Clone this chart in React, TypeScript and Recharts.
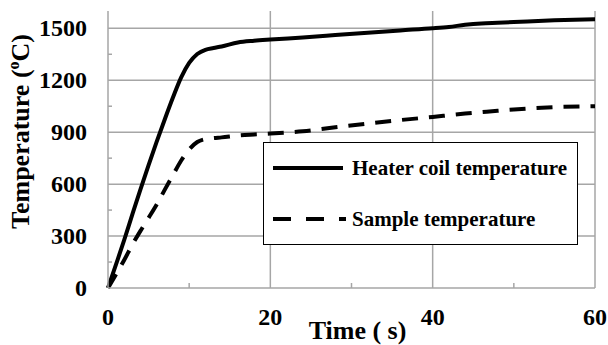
import {
  Legend,
  Line,
  LineChart,
  ReferenceLine,
  XAxis,
  YAxis,
} from 'recharts';

const TIME = [0, 1, 2, 3, 4, 5, 6, 7, 8, 9, 10, 11, 12, 13, 14, 16, 18, 20, 24, 28, 32, 36, 40, 42, 44, 46, 48, 50, 55, 60];
const HEATER = [0, 138, 278, 425, 570, 710, 845, 975, 1100, 1215, 1300, 1352, 1376, 1386, 1395, 1418, 1428, 1435, 1447, 1461, 1475, 1488, 1500, 1508, 1520, 1528, 1532, 1536, 1546, 1552];
const SAMPLE = [0, 80, 162, 250, 330, 405, 482, 568, 652, 735, 800, 843, 860, 866, 870, 881, 887, 892, 905, 928, 950, 970, 988, 998, 1008, 1016, 1024, 1031, 1045, 1050];

const X_TICKS = [0, 10, 20, 30, 40, 50, 60];
const X_GRID = [20, 40, 60];
const Y_TICKS = [0, 150, 300, 450, 600, 750, 900, 1050, 1200, 1350, 1500];
const Y_GRID = [300, 600, 900, 1200, 1500];

const DATA = TIME.map((t, i) => ({ t, heater: HEATER[i], sample: SAMPLE[i] }));

const FONT = "'Liberation Serif', 'Times New Roman', serif";
const GRID = '#a6a6a6';
const DASH = '16 11';

function XTick({ x, y, payload }: any) {
  if (payload.value % 20 !== 0) {
    return <line x1={x} x2={x} y1={y} y2={y - 5} stroke={GRID} strokeWidth={1.5} />;
  }
  return (
    <text x={x} y={y + 37} textAnchor="middle" fontFamily={FONT} fontWeight={700} fontSize={24} fill="#000">
      {payload.value}
    </text>
  );
}

function YTick({ x, y, payload }: any) {
  if (payload.value % 300 !== 0) {
    return <line x1={x} x2={x + 4} y1={y} y2={y} stroke={GRID} strokeWidth={1.5} />;
  }
  return (
    <text x={x - 21} y={y + 8} textAnchor="end" fontFamily={FONT} fontWeight={700} fontSize={24} fill="#000">
      {payload.value}
    </text>
  );
}

function XLabel({ viewBox }: any) {
  return (
    <text x={viewBox.x + viewBox.width / 2 + 6} y={viewBox.y + 51} textAnchor="middle" fontFamily={FONT} fontWeight={700} fontSize={26} fill="#000">
      Time ( s)
    </text>
  );
}

function YLabel({ viewBox }: any) {
  const cx = 29;
  const cy = viewBox.y + viewBox.height / 2 - 18;
  return (
    <text x={cx} y={cy} transform={`rotate(-90 ${cx} ${cy})`} textAnchor="middle" fontFamily={FONT} fontWeight={700} fontSize={26} fill="#000">
      Temperature (<tspan fontSize={16} dy={-10}>o</tspan><tspan dy={10}>C)</tspan>
    </text>
  );
}

function LegendBox({ payload }: any) {
  return (
    <div style={{ width: 315, height: 103, boxSizing: 'border-box', border: '1.5px solid #000', background: '#fff' }}>
      <svg width={312} height={100} style={{ display: 'block' }}>
        {(payload || []).map((entry: any, i: number) => {
          const cy = 25 + i * 51;
          return (
            <g key={entry.value}>
              <line x1={9} x2={i === 0 ? 79 : 82} y1={cy} y2={cy} stroke="#000" strokeWidth={4} strokeDasharray={i === 0 ? undefined : '18 15'} />
              <text x={88} y={cy + 7} fontFamily={FONT} fontWeight={700} fontSize={21} fill="#000">
                {entry.value}
              </text>
            </g>
          );
        })}
      </svg>
    </div>
  );
}

export default function App() {
  return (
    <div style={{ position: 'absolute', left: 0, top: 0, width: 608, height: 345, background: '#fff' }}>
      <LineChart width={608} height={345} data={DATA} margin={{ top: 11, right: 13, bottom: 0, left: 0 }}>
        <XAxis
          dataKey="t"
          type="number"
          domain={[0, 60]}
          ticks={X_TICKS}
          interval={0}
          tickSize={0}
          tickMargin={0}
          tickLine={false}
          axisLine={{ stroke: GRID, strokeWidth: 1.5 }}
          tick={<XTick />}
          height={57}
          label={<XLabel />}
        />
        <YAxis
          type="number"
          domain={[0, 1600]}
          ticks={Y_TICKS}
          interval={0}
          tickSize={0}
          tickMargin={0}
          tickLine={false}
          axisLine={{ stroke: GRID, strokeWidth: 1.5 }}
          tick={<YTick />}
          width={108}
          label={<YLabel />}
        />
        {Y_GRID.map((v) => (
          <ReferenceLine key={`y${v}`} y={v} stroke={GRID} strokeWidth={1.5} />
        ))}
        {X_GRID.map((v) => (
          <ReferenceLine key={`x${v}`} x={v} stroke={GRID} strokeWidth={1.5} />
        ))}
        <Legend
          layout="horizontal"
          verticalAlign="middle"
          align="center"
          content={<LegendBox />}
          wrapperStyle={{ left: 263, top: 142, width: 315, height: 103 }}
        />
        <Line
          type="monotone"
          dataKey="heater"
          name="Heater coil temperature"
          stroke="#000"
          strokeWidth={4}
          dot={false}
          isAnimationActive={false}
        />
        <Line
          type="monotone"
          dataKey="sample"
          name="Sample temperature"
          stroke="#000"
          strokeWidth={4}
          strokeDasharray={DASH}
          dot={false}
          isAnimationActive={false}
        />
      </LineChart>
    </div>
  );
}
